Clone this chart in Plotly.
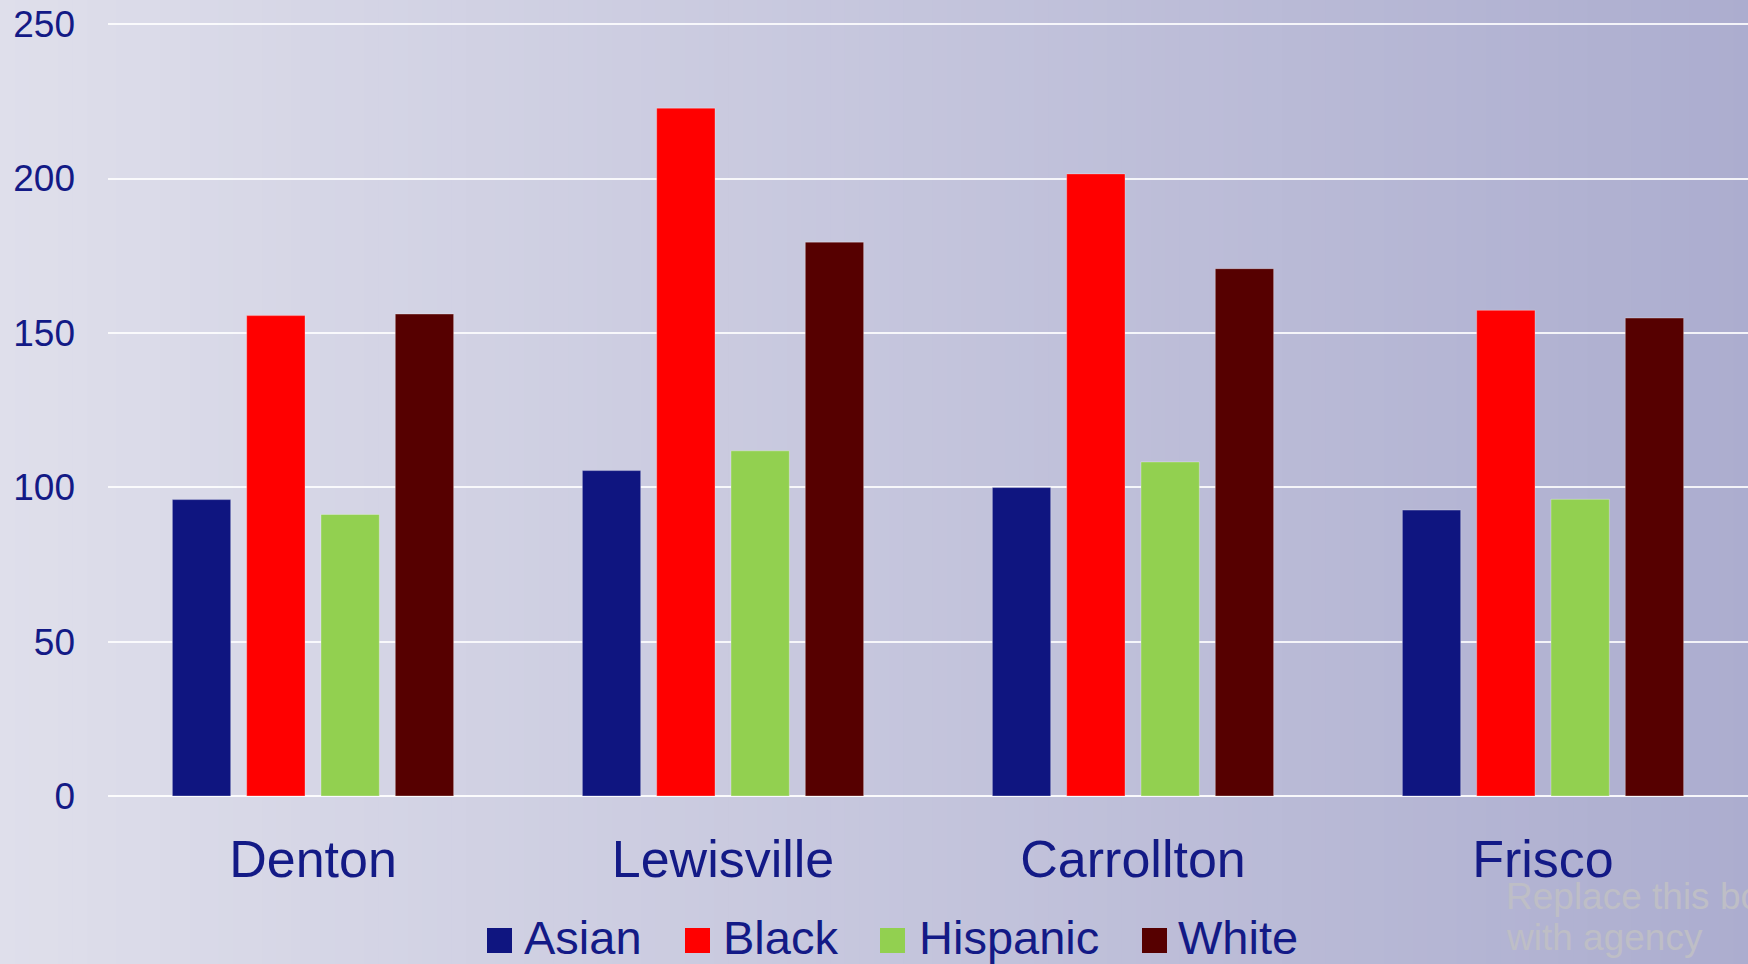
import plotly.graph_objects as go

categories = ["Denton", "Lewisville", "Carrollton", "Frisco"]
series_names = ["Asian", "Black", "Hispanic", "White"]
asian = [96.0, 105.4, 99.9, 92.6]
black = [155.6, 222.8, 201.5, 157.3]
hispanic = [91.2, 111.8, 108.2, 96.1]
white = [156.1, 179.4, 170.8, 154.8]
colors = ["#0f1580", "#ff0000", "#92d050", "#560000"]
y_ticks = [0, 50, 100, 150, 200, 250]

W, H = 1748, 964
ML, MR, MT, MB = 108, 0, 18, 168
PW = W - ML - MR
PH = H - MT - MB

def px2paper_x(px):
    return (px - ML) / PW

def px2paper_y(py):
    return (H - MB - py) / PH

TEXT = "#131a86"
FONT = "Liberation Sans, Arial, sans-serif"

fig = go.Figure()
for name, vals, col in zip(series_names, [asian, black, hispanic, white], colors):
    fig.add_trace(go.Bar(
        x=categories, y=vals, name=name,
        marker=dict(color=col, line=dict(color="rgba(255,255,255,0.3)", width=1)),
        showlegend=False,
    ))

shapes = []
# background gradient strips
N = 120
c0 = (223, 223, 235)
c1 = (172, 173, 207)
for i in range(N):
    t = (i + 0.5) / N
    c = tuple(round(c0[k] + (c1[k] - c0[k]) * t) for k in range(3))
    x0 = px2paper_x(W * i / N)
    x1 = px2paper_x(W * (i + 1) / N + 1)
    shapes.append(dict(type="rect", xref="paper", yref="paper",
                       x0=x0, x1=x1, y0=px2paper_y(H + 2), y1=px2paper_y(-2),
                       fillcolor="rgb(%d,%d,%d)" % c, line=dict(width=0), layer="below"))

# manual legend
legend_marker_x = [487, 685, 880, 1142]
legend_text_x = [522, 721, 917, 1176]
annotations = []
for name, col, mx, tx in zip(series_names, colors, legend_marker_x, legend_text_x):
    shapes.append(dict(type="rect", xref="paper", yref="paper",
                       x0=px2paper_x(mx), x1=px2paper_x(mx + 25),
                       y0=px2paper_y(953), y1=px2paper_y(928),
                       fillcolor=col, line=dict(width=0), layer="above"))
    annotations.append(dict(text=name, xref="paper", yref="paper",
                            x=px2paper_x(tx), y=px2paper_y(938),
                            xanchor="left", yanchor="middle", showarrow=False,
                            font=dict(family=FONT, size=47, color=TEXT)))

# placeholder logo text (cut off at the right edge, as in the original)
for txt, py in [("Replace this box", 897), ("with agency", 937)]:
    annotations.append(dict(text=txt, xref="paper", yref="paper",
                            x=px2paper_x(1504), y=px2paper_y(py),
                            xanchor="left", yanchor="middle", showarrow=False,
                            font=dict(family=FONT, size=37, color="rgb(190,190,198)")))

fig.update_layout(
    width=W, height=H,
    margin=dict(l=ML, r=MR, t=MT, b=MB, pad=0),
    paper_bgcolor="rgb(198,198,221)",
    plot_bgcolor="rgba(0,0,0,0)",
    barmode="group", bargap=0.275, bargroupgap=0.215,
    shapes=shapes, annotations=annotations,
    font=dict(family=FONT, color=TEXT),
    xaxis=dict(showgrid=False, showline=False, ticks="",
               tickfont=dict(family=FONT, size=52, color=TEXT),
               ticklabelstandoff=28),
    yaxis=dict(range=[0, 252], tickvals=y_ticks, ticktext=[str(v) for v in y_ticks],
               showgrid=True, gridcolor="rgba(255,255,255,0.85)", gridwidth=2,
               zeroline=True, zerolinecolor="rgba(255,255,255,0.9)", zerolinewidth=2,
               showline=False, ticks="",
               tickfont=dict(family=FONT, size=37, color=TEXT),
               ticklabelstandoff=32),
)

fig.write_html("out.html")
